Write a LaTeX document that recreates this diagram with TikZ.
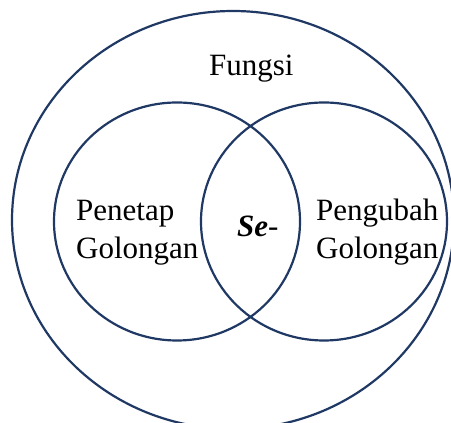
\documentclass[tikz,border=0pt]{standalone}
\usepackage{fontspec}
\setmainfont{Liberation Serif}
\begin{document}
\begin{tikzpicture}[x=1pt,y=1pt,
  ring/.style={draw=navy,line width=2.2pt},
  lbl/.style={anchor=base west,inner sep=0pt,font=\fontsize{31}{38}\selectfont,align=left}]
\definecolor{navy}{HTML}{1F3864}
\useasboundingbox (0,0) rectangle (451,423);
\draw[ring] (233,203) ellipse [x radius=221, y radius=209];
\draw[ring] (177,201.5) ellipse [x radius=123, y radius=119];
\draw[ring] (324,201.5) ellipse [x radius=123, y radius=119];
\node[lbl] (f) at (209,347) {Fungsi};
\node[lbl] (p1) at (76,202) {Penetap};
\node[lbl] (p2) at (76,164) {Golongan};
\node[lbl] (q1) at (316,202) {Pengubah};
\node[lbl] (q2) at (316,164) {Golongan};
\node[lbl] (s) at (237,186) {\textbf{\textit{Se}}-};
\end{tikzpicture}
\end{document}
